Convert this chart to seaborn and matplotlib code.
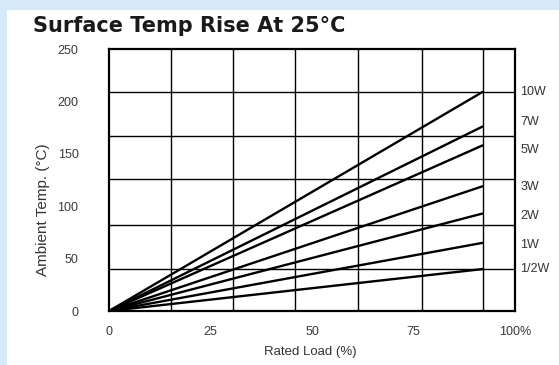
import matplotlib
matplotlib.use("Agg")
import matplotlib.pyplot as plt
from matplotlib.patches import Rectangle
import pandas as pd
import seaborn as sns

# Wattage ratings and surface temperature rise at the end of the load range
ratings = ["10W", "7W", "5W", "3W", "2W", "1W", "1/2W"]
end_temp = [209, 176, 158, 119, 93, 65, 40]
end_load = 92
label_nudge = [0, 4, -4, -1, -2, -2, 0]

x_ticks = [0, 25, 50, 75, 100]
x_tick_labels = ["0", "25", "50", "75", "100%"]
y_ticks = [0, 50, 100, 150, 200, 250]

grid_x = [15.3, 30.5, 45.8, 61.3, 77.1, 92.1]
grid_y = [40, 82, 126, 167, 209]

rows = []
for r, t in zip(ratings, end_temp):
    rows.append({"rating": r, "load": 0, "temp": 0})
    rows.append({"rating": r, "load": end_load, "temp": t})
df = pd.DataFrame(rows)

sns.set_theme(style="white")
plt.rcParams["font.family"] = ["Liberation Sans", "DejaVu Sans"]

W, H = 559, 365
fig = plt.figure(figsize=(W / 100, H / 100), dpi=100)
fig.patch.set_facecolor("white")

# light blue page border strips
blue = "#d6e9f9"
fig.patches.append(Rectangle((0, 0), 7 / W, 1, transform=fig.transFigure,
                             facecolor=blue, edgecolor="none", zorder=-10))
fig.patches.append(Rectangle((0, 1 - 10 / H), 1, 10 / H, transform=fig.transFigure,
                             facecolor=blue, edgecolor="none", zorder=-10))

ax = fig.add_axes([109 / W, 1 - 311 / H, (515 - 109) / W, (311 - 49) / H])
ax.set_facecolor("white")

sns.lineplot(data=df, x="load", y="temp", units="rating", estimator=None,
             color="black", lw=1.7, ax=ax, legend=False)

ax.set_xlim(0, 100)
ax.set_ylim(0, 250)
ax.set_xticks(x_ticks)
ax.set_xticklabels(x_tick_labels)
ax.set_yticks(y_ticks)
ax.set_xticks(grid_x, minor=True)
ax.set_yticks(grid_y, minor=True)
ax.grid(False, which="major")
ax.grid(True, which="minor", color="black", lw=1.0)
ax.tick_params(which="both", length=0, labelsize=9, colors="#3a3a3a")
ax.tick_params(axis="y", pad=22)
ax.tick_params(axis="x", pad=11)

for s in ax.spines.values():
    s.set_visible(True)
    s.set_color("black")
    s.set_linewidth(1.6)

ax.set_xlabel("Rated Load (%)", fontsize=9.5, color="#333333")
ax.set_ylabel("Ambient Temp. (°C)", fontsize=11, color="#333333")
ax.xaxis.set_label_coords(0.495, -0.135)
ax.yaxis.set_label_coords(-0.145, 0.385)

for r, t, n in zip(ratings, end_temp, label_nudge):
    ax.text(101.3, t + n, r, fontsize=9, color="#333333", va="center",
            ha="left", clip_on=False)

fig.text(33 / W, 1 - 32 / H, "Surface Temp Rise At 25°C", fontsize=15,
         fontweight="bold", family="DejaVu Sans", color="#1a1a1a",
         va="baseline", ha="left")

fig.savefig("out.png", dpi=100, facecolor=fig.get_facecolor())
